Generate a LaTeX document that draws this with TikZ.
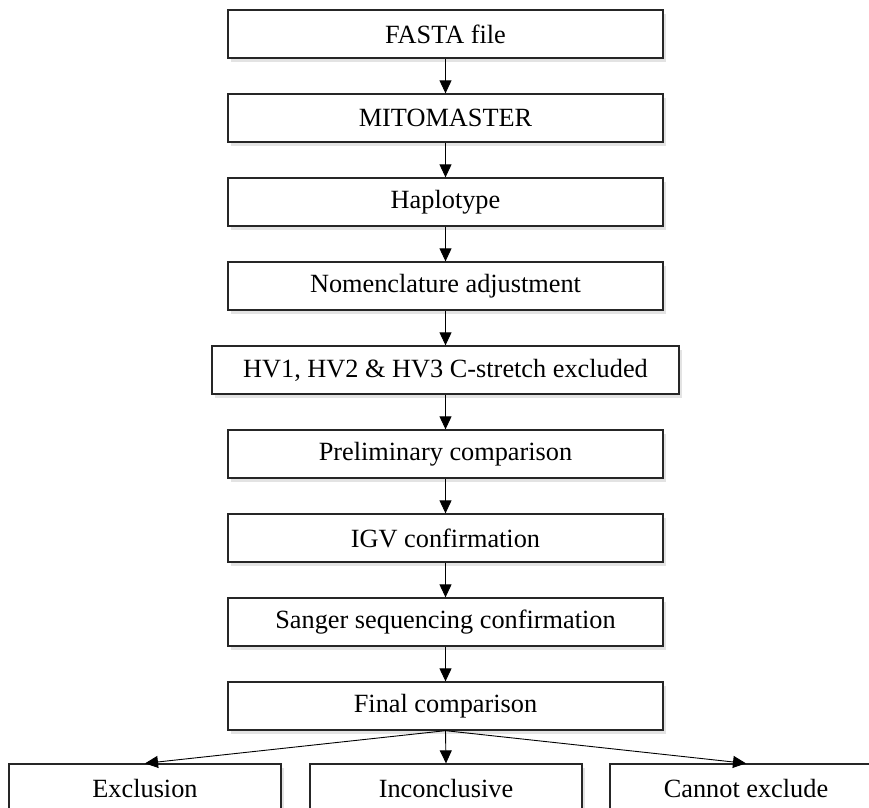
\documentclass[tikz,border=0pt]{standalone}
\usepackage{fontspec}
\setmainfont{Liberation Serif}
\usetikzlibrary{arrows.meta,shadows}
\begin{document}
\begin{tikzpicture}[x=1pt,y=1pt,>={Triangle[length=13pt,width=12pt]},
    stepbox/.style={draw=black!85,line width=1.3pt,fill=white,
      minimum width=435pt,minimum height=48pt,inner sep=0pt,
      font=\fontsize{26.3}{30}\selectfont,
      drop shadow={shadow xshift=3pt,shadow yshift=-3.5pt,opacity=.22}},
    link/.style={->,line width=0.9pt}]
        \useasboundingbox (0,0) rectangle (869,-807); % page frame

        % the main chain of steps
        \foreach \n/\y/\w/\txt in {
          fasta/34/435/FASTA file,
          mito/118/435/MITOMASTER,
          haplo/202/435/Haplotype,
          nomen/286/435/Nomenclature adjustment,
          hv/370/467/{HV1, HV2 \& HV3 C-stretch excluded},
          prelim/454/435/Preliminary comparison,
          igv/538/435/IGV confirmation,
          sanger/622/435/Sanger sequencing confirmation,
          final/706/435/Final comparison
        }
        {
          \node[stepbox,minimum width=\w pt] (\n) at (445.5,-\y) {\txt};
        }

        % the three outcomes
        \foreach \n/\x/\txt in {excl/145/Exclusion, incon/446/Inconclusive, cannot/746/Cannot exclude}
        {
          \node[stepbox,minimum width=272pt] (\n) at (\x,-788) {\txt};
        }

        % arrows down the chain
        \foreach \a/\b in {fasta/mito,mito/haplo,haplo/nomen,nomen/hv,hv/prelim,prelim/igv,igv/sanger,sanger/final}
        {
          \draw[link] (\a) -- (\b);
        }

        % fan out to the outcomes
        \foreach \b in {excl,incon,cannot}
          \draw[link] (final.south) -- (\b.north);
\end{tikzpicture}
\end{document}
